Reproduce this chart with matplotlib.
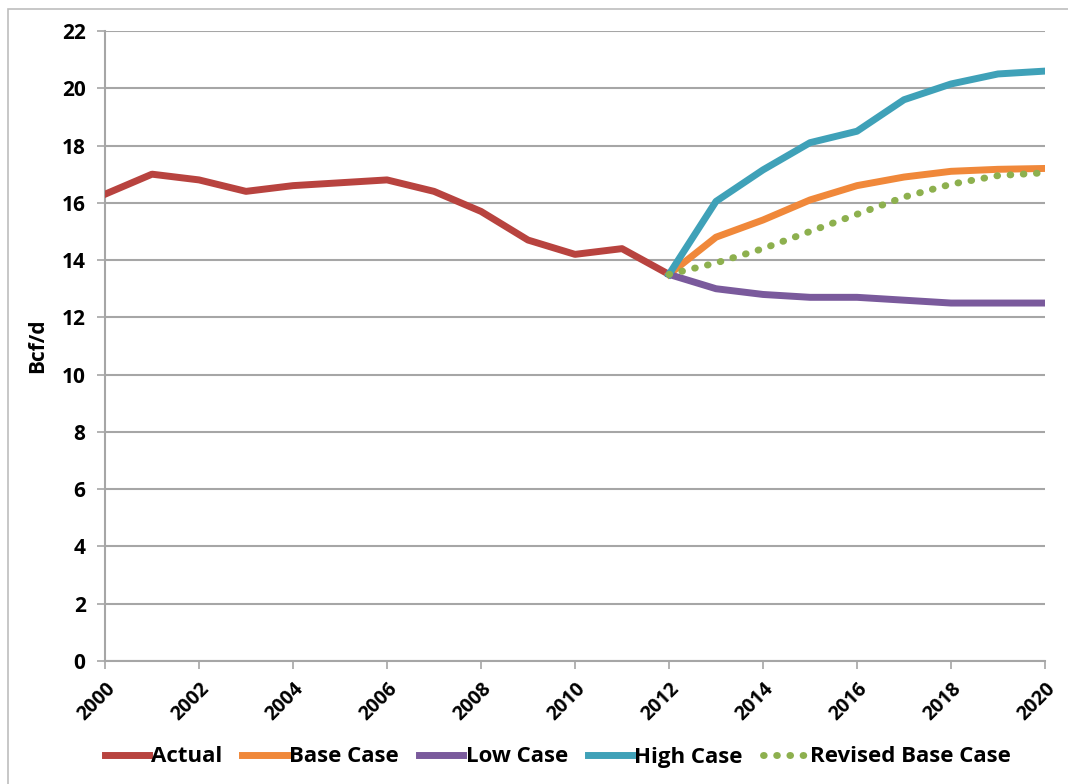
import matplotlib
matplotlib.use("Agg")
import matplotlib.pyplot as plt
from matplotlib.patches import Rectangle
from matplotlib import font_manager

# pick a condensed bold face if one is available
names = {f.name for f in font_manager.fontManager.ttflist}
fam = "Liberation Sans Narrow" if "Liberation Sans Narrow" in names else "Open Sans"
plt.rcParams.update({
    "font.family": [fam, "DejaVu Sans"],
    "font.weight": "bold",
})

# Supply series, Bcf/d
years_actual = list(range(2000, 2013))
actual = [16.3, 17.0, 16.8, 16.4, 16.6, 16.7, 16.8, 16.4, 15.7, 14.7, 14.2, 14.4, 13.5]

years_fcst = list(range(2012, 2021))
base_case = [13.5, 14.8, 15.4, 16.1, 16.6, 16.9, 17.1, 17.17, 17.2]
low_case = [13.5, 13.0, 12.8, 12.7, 12.7, 12.6, 12.5, 12.5, 12.5]
high_case = [13.5, 16.05, 17.15, 18.1, 18.5, 19.6, 20.15, 20.5, 20.6]
revised_base = [13.5, 13.9, 14.4, 15.0, 15.6, 16.2, 16.65, 16.95, 17.05]

x_ticks = list(range(2000, 2021, 2))
y_ticks = list(range(0, 23, 2))

C_ACTUAL = "#B8433F"
C_BASE = "#F0883A"
C_LOW = "#7A5A9C"
C_HIGH = "#3FA1B8"
C_REV = "#8DB04E"
GRID = "#A6A6A6"

fig = plt.figure(figsize=(10.68, 7.84), dpi=100)
ax = fig.add_axes([105 / 1068, 1 - 661 / 784, 940 / 1068, 630 / 784])

# outer chart-area frame
fig.patches.append(Rectangle((8 / 1068, -0.1), 1.2, 1 - 9 / 784 + 0.1,
                             transform=fig.transFigure, fill=False,
                             edgecolor="#BDBDBD", linewidth=1.2))

lw = 5.0
ax.plot(years_actual, actual, color=C_ACTUAL, lw=lw, label="Actual", zorder=3)
ax.plot(years_fcst, base_case, color=C_BASE, lw=lw, label="Base Case", zorder=3)
ax.plot(years_fcst, low_case, color=C_LOW, lw=lw, label="Low Case", zorder=3)
ax.plot(years_fcst, high_case, color=C_HIGH, lw=lw, label="High Case", zorder=4)
ax.plot(years_fcst, revised_base, color=C_REV, lw=lw, label="Revised Base Case",
        linestyle=(0, (0.1, 1.8)), dash_capstyle="round", zorder=5)

ax.set_xlim(2000, 2020)
ax.set_ylim(0, 22)
ax.set_xticks(x_ticks)
ax.set_yticks(y_ticks)
ax.set_xticklabels([str(x) for x in x_ticks], rotation=45, ha="right",
                   rotation_mode="anchor", fontsize=14, fontweight="bold")
ax.set_yticklabels([str(y) for y in y_ticks], fontsize=15, fontweight="bold")
ax.tick_params(axis="both", direction="out", length=6, width=1.2, color=GRID,
               pad=8)
ax.tick_params(axis="x", pad=7)

ax.grid(axis="y", color=GRID, linewidth=1.5)
ax.set_axisbelow(True)
for side in ("top", "right"):
    ax.spines[side].set_visible(False)
for side in ("left", "bottom"):
    ax.spines[side].set_color(GRID)
    ax.spines[side].set_linewidth(1.5)

ax.set_ylabel("Bcf/d", fontsize=15, fontweight="bold", labelpad=10)

handles, labels = ax.get_legend_handles_labels()
fig.legend(handles, labels, loc="center", bbox_to_anchor=(0.522, 1 - 757 / 784),
           ncol=5, frameon=False, handlelength=2.0,
           handletextpad=0.1, columnspacing=0.9,
           prop={"family": [fam, "DejaVu Sans"], "weight": "bold", "size": 16})

fig.savefig("out.png", dpi=100)
